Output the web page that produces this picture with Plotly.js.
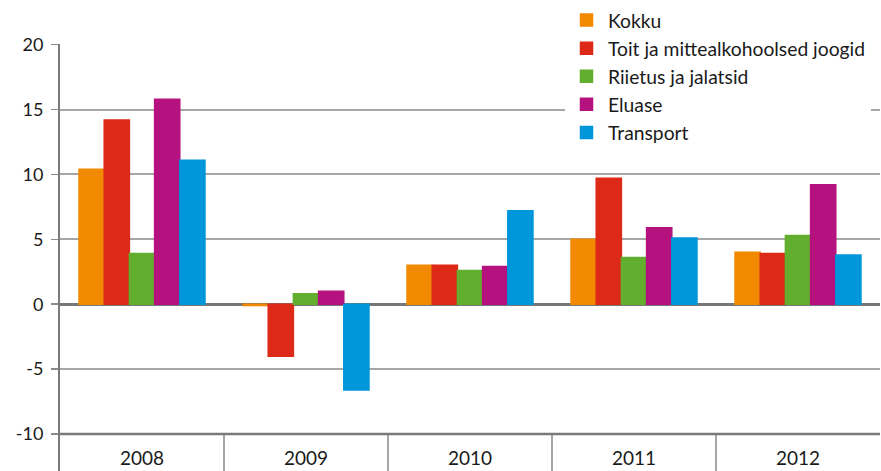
<!DOCTYPE html>
<html>
<head>
<meta charset="utf-8">
<script src="https://cdn.plot.ly/plotly-3.0.1.min.js"></script>
<style>html,body{margin:0;padding:0;background:#fff;}#chart{width:881px;height:471px;}</style>
</head>
<body>
<div id="chart"></div>
<script>
var categories = ['2008', '2009', '2010', '2011', '2012'];
var seriesNames = ['Kokku', 'Toit ja mittealkohoolsed joogid', 'Riietus ja jalatsid', 'Eluase', 'Transport'];
var kokku = [10.4, -0.1, 3.0, 5.0, 4.0];
var toit = [14.2, -4.0, 3.0, 9.7, 3.9];
var riietus = [3.9, 0.8, 2.6, 3.6, 5.3];
var eluase = [15.8, 1.0, 2.9, 5.9, 9.2];
var transport = [11.1, -6.6, 7.2, 5.1, 3.8];
var yTicks = [-10, -5, 0, 5, 10, 15, 20];

var colors = ['#F28A00', '#DD2A18', '#62AE2F', '#B5127F', '#0096DA'];
var values = [kokku, toit, riietus, eluase, transport];
var FONT = 'Lato, "Open Sans", sans-serif';

var traces = values.map(function (v, i) {
  return {
    type: 'bar',
    name: seriesNames[i],
    x: categories,
    y: v,
    legendgroup: 'g' + i,
    marker: { color: colors[i], line: { color: colors[i], width: 1.5 } },
    hoverinfo: 'x+y+name'
  };
});

var shapes = [];
for (var i = 1; i < categories.length; i++) {
  shapes.push({
    type: 'line', xref: 'x', yref: 'paper',
    x0: i - 0.5, x1: i - 0.5, y0: 0, y1: (12.85 - 10) / 32.9,
    line: { color: '#8a8a8a', width: 1.5 }
  });
}
shapes.push({
  type: 'line', xref: 'paper', yref: 'y',
  x0: 0, x1: 1, y0: -10, y1: -10,
  line: { color: '#7a7a7a', width: 2.5 }
});

var annotations = categories.map(function (c, i) {
  return {
    x: i, y: -11.8, xref: 'x', yref: 'y',
    text: c, showarrow: false,
    font: { family: FONT, size: 19, color: '#1a1a1a' },
    yanchor: 'middle', xanchor: 'center'
  };
});

var layout = {
  width: 881, height: 471,
  margin: { l: 60, r: 1, t: 44, b: 0, pad: 0, autoexpand: false },
  paper_bgcolor: '#ffffff',
  plot_bgcolor: '#ffffff',
  barmode: 'group',
  bargap: 0.232,
  bargroupgap: 0,
  showlegend: true,
  legend: {
    xref: 'container', yref: 'container',
    x: 565 / 881, y: 1 - 1 / 471,
    xanchor: 'left', yanchor: 'top',
    bgcolor: '#ffffff',
    font: { family: FONT, size: 19.3, color: '#1a1a1a' },
    itemwidth: 33,
    tracegroupgap: 1,
    traceorder: 'normal'
  },
  xaxis: {
    type: 'category',
    range: [-0.5, 4.5],
    showticklabels: false,
    showgrid: false,
    zeroline: false,
    showline: false,
    ticks: '',
    fixedrange: true
  },
  yaxis: {
    range: [-12.85, 20.05],
    tickvals: yTicks,
    ticktext: yTicks.map(String),
    ticks: 'outside',
    ticklen: 7,
    tickwidth: 1.5,
    tickcolor: '#8a8a8a',
    ticklabelstandoff: 4,
    tickfont: { family: FONT, size: 18, color: '#1a1a1a' },
    showline: true,
    linecolor: '#7a7a7a',
    linewidth: 2,
    showgrid: true,
    gridcolor: '#a6a6a6',
    gridwidth: 2,
    zeroline: true,
    zerolinecolor: '#777777',
    zerolinewidth: 3,
    fixedrange: true
  },
  shapes: shapes,
  annotations: annotations
};

Plotly.newPlot('chart', traces, layout, { displayModeBar: false, staticPlot: true });
</script>
</body>
</html>
